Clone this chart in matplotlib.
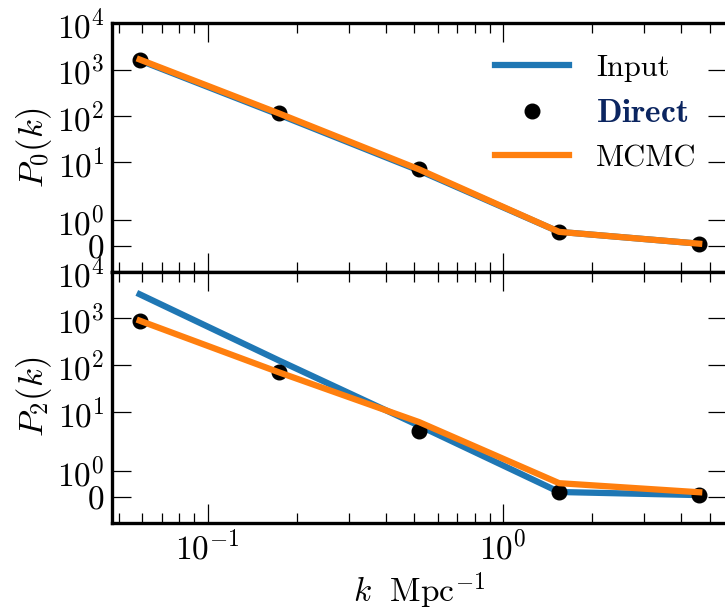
import matplotlib
matplotlib.use("Agg")
import matplotlib.pyplot as plt
from matplotlib.ticker import NullLocator, FixedLocator

plt.rcParams['mathtext.fontset'] = 'cm'
plt.rcParams['font.family'] = 'serif'
plt.rcParams['font.serif'] = ['cmr10', 'DejaVu Serif']
plt.rcParams['axes.formatter.use_mathtext'] = True

# data
k = [0.0589, 0.175, 0.519, 1.545, 4.6]
P0_input = [1580, 105, 6.6, 0.55, 0.09]
P0_direct = [1640, 114, 7.0, 0.54, 0.09]
P0_mcmc = [1650, 112, 7.0, 0.55, 0.09]
P2_input = [3300, 125, 5.1, 0.18, 0.06]
P2_direct = [890, 73, 3.9, 0.17, 0.065]
P2_mcmc = [900, 70, 6.1, 0.52, 0.17]
yticks = [0, 1, 10, 100, 1000, 10000]
ylabels = [r'$P_0(k)$', r'$P_2(k)$']

blue = '#1f77b4'
orange = '#ff7f0e'

fig = plt.figure(figsize=(7.25, 6.12), dpi=100)
left, right, top, mid, bottom = 0.154, 1.003, 0.962, 0.556, 0.146
ax1 = fig.add_axes([left, mid, right - left, top - mid])
ax2 = fig.add_axes([left, bottom, right - left, mid - bottom], sharex=ax1)

for ax, inp, dr, mc, lab in [(ax1, P0_input, P0_direct, P0_mcmc, ylabels[0]),
                             (ax2, P2_input, P2_direct, P2_mcmc, ylabels[1])]:
    ax.plot(k, inp, color=blue, lw=4.5, label='Input', zorder=2)
    ax.plot(k, dr, 'o', color='black', ms=10.5, label=r'$\mathbf{Direct}$', zorder=2.5)
    ax.plot(k, mc, color=orange, lw=4.5, label='MCMC', zorder=3)
    ax.set_xscale('log')
    ax.set_yscale('symlog', linthresh=2, linscale=1)
    ax.set_ylim(-1, 1e4)
    ax.yaxis.set_major_locator(FixedLocator(yticks))
    ax.yaxis.set_minor_locator(NullLocator())
    ax.set_ylabel(lab, fontsize=25, labelpad=2)
    ax.tick_params(which='both', direction='in', top=True, right=True, labelsize=24)
    ax.tick_params(which='major', length=14, width=0.9, pad=5)
    ax.tick_params(which='minor', length=7, width=0.9)
    for s in ax.spines.values():
        s.set_linewidth(2.4)

ax1.tick_params(labelbottom=False)
ax2.set_xlabel(r'$k\ \ \mathrm{Mpc}^{-1}$', fontsize=24)

leg = ax1.legend(loc='upper right', frameon=False, fontsize=22, handlelength=2.4,
                 handletextpad=0.9, borderaxespad=0.3, labelspacing=0.55,
                 bbox_to_anchor=(0.985, 0.96))
leg.get_texts()[1].set_color('#0b2560')
leg.get_texts()[1].set_fontsize(24)

fig.savefig('out.png', dpi=100)
